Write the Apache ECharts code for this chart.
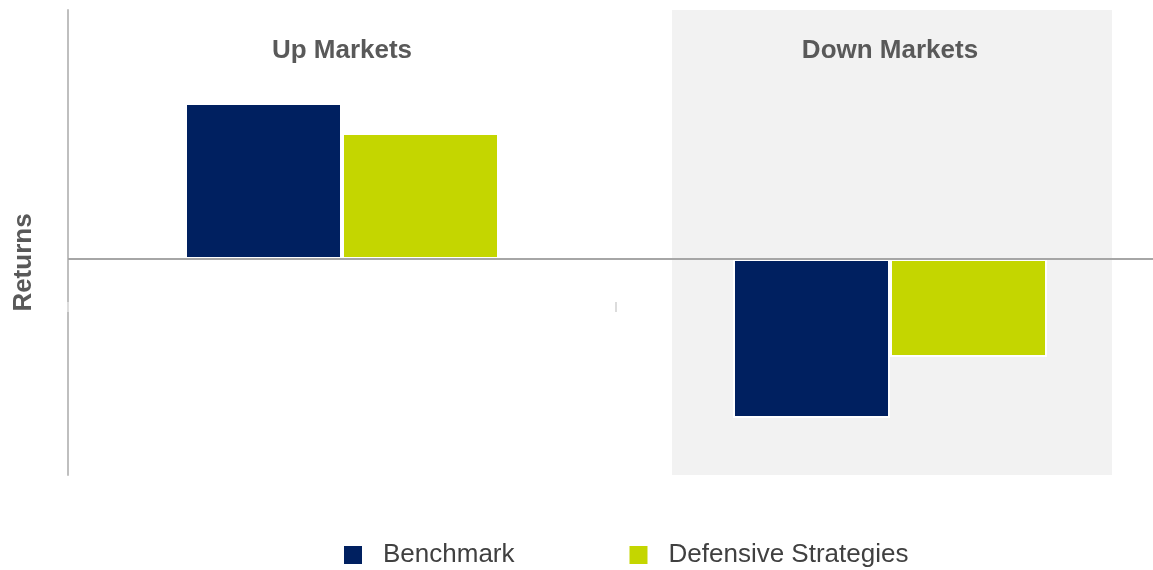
<!DOCTYPE html>
<html><head><meta charset="utf-8">
<script src="https://cdn.jsdelivr.net/npm/echarts@6/dist/echarts.min.js"></script>
<style>html,body{margin:0;padding:0;background:#fff}#c{width:1153px;height:570px}</style>
</head><body><div id="c"></div>
<script>
const categories = ['Up Markets', 'Down Markets'];
const benchmark = [15.6, -15.9];
const defensive = [12.6, -9.8];
const seriesNames = ['Benchmark', 'Defensive Strategies'];
const yMin = -21.6, yMax = 24.9;

const chart = echarts.init(document.getElementById('c'));
const font = '"Liberation Sans", Arial, sans-serif';
chart.setOption({
  animation: false,
  textStyle: { fontFamily: font },
  grid: { left: 68, top: 10, bottom: 95, width: 1096, outerBoundsMode: 'none', containLabel: false },
  legend: {
    top: 537, left: 337, itemWidth: 20, itemHeight: 20, itemGap: 113,
    icon: 'rect',
    textStyle: { fontSize: 26, color: '#404040', padding: [0, 0, 0, 15], fontFamily: font },
    data: seriesNames
  },
  xAxis: [{
    type: 'category', data: categories, position: 'top', z: 10,
    axisLine: { show: false }, axisTick: { show: false },
    axisLabel: { inside: true, margin: 28, fontSize: 26, fontWeight: 'bold', color: '#595959', fontFamily: font, hideOverlap: false }
  }, {
    type: 'category', data: categories, position: 'bottom', offset: -173,
    axisLine: { show: false },
    axisTick: { show: true, length: 10, lineStyle: { color: '#dcdcdc', width: 2 } },
    axisLabel: { show: false }
  }],
  yAxis: {
    type: 'value', min: yMin, max: yMax,
    axisLine: { show: true, onZero: false, lineStyle: { color: '#bfbfbf', width: 2 } },
    axisTick: { show: false }, axisLabel: { show: false }, splitLine: { show: false },
    name: 'Returns', nameLocation: 'middle', nameGap: 31, nameRotate: 90,
    nameTextStyle: { fontSize: 26, fontWeight: 'bold', color: '#595959', padding: [0, 40, 0, 0], fontFamily: font }
  },
  series: [{
    name: seriesNames[0], type: 'bar', data: benchmark, barWidth: 157, barGap: '0%',
    itemStyle: { color: '#002060', borderColor: '#ffffff', borderWidth: 2 },
    markArea: {
      silent: true, itemStyle: { color: '#f2f2f2' },
      data: [[{ x: 672, y: 10 }, { x: 1112, y: 475 }]]
    },
    markLine: {
      silent: true, symbol: 'none', label: { show: false },
      lineStyle: { color: '#a6a6a6', width: 2, type: 'solid' },
      data: [{ yAxis: 0 }]
    }
  }, {
    name: seriesNames[1], type: 'bar', data: defensive, barWidth: 157,
    itemStyle: { color: '#c4d600', borderColor: '#ffffff', borderWidth: 2 }
  }]
});
</script></body></html>
